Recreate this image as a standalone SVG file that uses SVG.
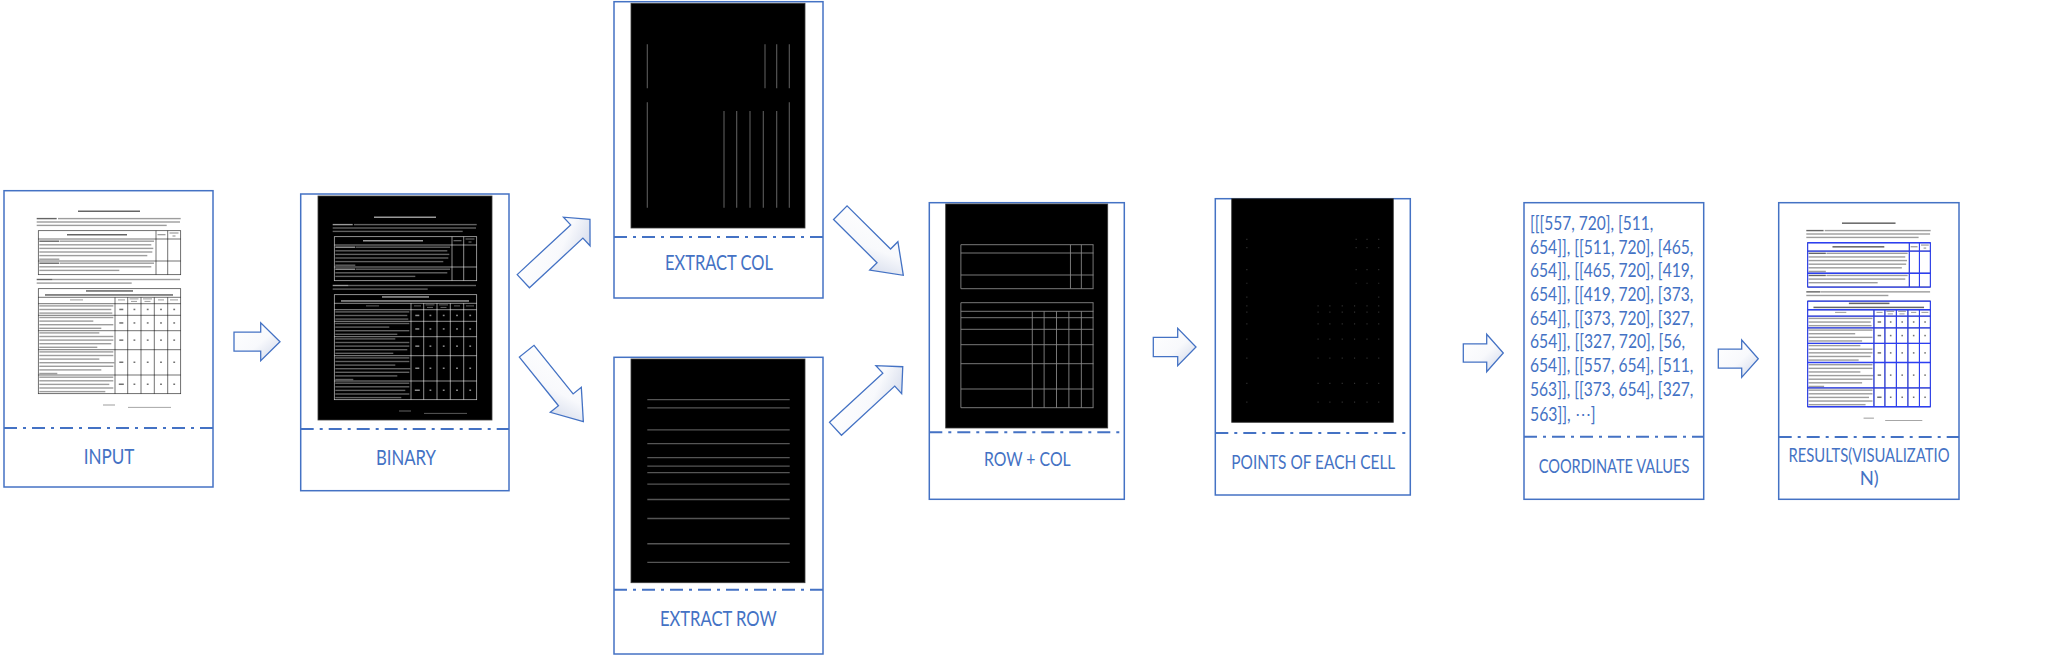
<svg xmlns="http://www.w3.org/2000/svg" xmlns:xlink="http://www.w3.org/1999/xlink" width="2047" height="656" viewBox="0 0 2047 656">
<style>
.box{fill:#fff;stroke:#4472C4;stroke-width:1.5}
.sep{fill:none;stroke:#4472C4;stroke-width:2;stroke-dasharray:13 6 3 6}
.lbl{font-family:Lato,"Liberation Sans",sans-serif;font-weight:400;fill:#4472C4;text-anchor:middle}
.crd{font-family:Lato,"Liberation Sans",sans-serif;font-weight:400;fill:#4472C4;font-size:19.5px}
.arr{fill:url(#ag);stroke:#4472C4;stroke-width:1.3;stroke-linejoin:miter}
.img{fill:#000;stroke:#3a3a3a;stroke-width:.8}
</style>
<defs>
<linearGradient id="ag" x1="0" y1="0" x2="1" y2="1">
<stop offset="0" stop-color="#ffffff"/>
<stop offset="0.55" stop-color="#f8f9fc"/>
<stop offset="1" stop-color="#cdd5e8"/>
</linearGradient>
<symbol id="doc" viewBox="0 0 174 224" preserveAspectRatio="none">
<g fill="currentColor">
<g opacity=".6">
<rect x="56" y="20.5" width="62" height="1.5"/>
<rect x="14.7" y="27.9" width="20" height="1.4"/>
<rect x="45" y="44" width="60" height="1.5"/>
<rect x="17.3" y="50.5" width="20" height="1.4"/>
<rect x="17.3" y="72.5" width="20" height="1.4"/>
<rect x="14.7" y="88.8" width="16" height="1.4"/>
<rect x="64" y="100.2" width="47" height="1.5"/>
<rect x="23" y="104.2" width="128" height="1.5"/>
</g>
<g opacity=".38">
<rect x="36" y="27.9" width="122.7" height="1.4"/>
<rect x="14.7" y="31.3" width="143.3" height="1.4"/>
<rect x="14.7" y="34.7" width="130" height="1.4"/>
<rect x="135.5" y="44" width="8" height="1.3"/>
<rect x="147.5" y="42.4" width="9" height="1.2"/>
<rect x="150.5" y="45.4" width="3" height="1.2"/>
<rect x="38" y="50.5" width="94" height="1.4"/>
<rect x="17.3" y="54.1" width="112" height="1.4"/>
<rect x="17.3" y="57.7" width="114" height="1.4"/>
<rect x="17.3" y="61.3" width="113" height="1.4"/>
<rect x="17.3" y="64.9" width="108" height="1.4"/>
<rect x="17.3" y="68.5" width="20" height="1.4"/>
<rect x="38" y="72.5" width="94" height="1.4"/>
<rect x="17.3" y="76.1" width="112" height="1.4"/>
<rect x="17.3" y="79.7" width="80" height="1.4"/>
<rect x="31" y="88.8" width="127" height="1.4"/>
<rect x="14.7" y="92.4" width="95" height="1.4"/>
<rect x="48" y="109.4" width="13" height="1"/>
<rect x="96" y="109.4" width="7" height="1"/>
<rect x="107.5" y="108.4" width="9" height="1"/>
<rect x="109" y="110.9" width="6" height="1"/>
<rect x="121" y="108.4" width="9" height="1"/>
<rect x="122.5" y="110.9" width="6" height="1"/>
<rect x="136" y="109.4" width="6" height="1"/>
<rect x="148" y="109.4" width="8" height="1"/>
<rect x="17.3" y="115.2" width="74" height="1.4"/>
<rect x="17.3" y="118.8" width="72" height="1.4"/>
<rect x="17.3" y="122.4" width="73" height="1.4"/>
<rect x="17.3" y="126.8" width="74" height="1.4"/>
<rect x="17.3" y="130.4" width="54" height="1.4"/>
<rect x="17.3" y="134" width="74" height="1.4"/>
<rect x="17.3" y="137.6" width="62" height="1.4"/>
<rect x="17.3" y="142.2" width="60" height="1.4"/>
<rect x="17.3" y="145.8" width="74" height="1.4"/>
<rect x="17.3" y="149.4" width="74" height="1.4"/>
<rect x="17.3" y="153" width="72" height="1.4"/>
<rect x="17.3" y="156.6" width="58" height="1.4"/>
<rect x="17.3" y="161.2" width="74" height="1.4"/>
<rect x="17.3" y="164.8" width="74" height="1.4"/>
<rect x="17.3" y="168.4" width="60" height="1.4"/>
<rect x="17.3" y="172" width="75" height="1.4"/>
<rect x="17.3" y="175.6" width="74" height="1.4"/>
<rect x="17.3" y="179.2" width="62" height="1.4"/>
<rect x="17.3" y="182.8" width="18" height="1.4"/>
<rect x="17.3" y="186.5" width="74" height="1.4"/>
<rect x="17.3" y="190.1" width="74" height="1.4"/>
<rect x="17.3" y="193.7" width="70" height="1.4"/>
<rect x="17.3" y="197.3" width="74" height="1.4"/>
<rect x="17.3" y="200.9" width="66" height="1.4"/>
<rect x="81" y="214.5" width="12" height="1"/>
<rect x="106" y="216.9" width="43" height="0.9"/>
</g>
<g opacity=".55">
<rect x="97.3" y="118.7" width="4" height="1.5"/><rect x="111.5" y="118.7" width="1.8" height="1.5"/><rect x="124.8" y="118.7" width="1.8" height="1.5"/><rect x="138.1" y="118.7" width="1.8" height="1.5"/><rect x="151.3" y="118.7" width="1.8" height="1.5"/>
<rect x="97.3" y="132.2" width="4" height="1.5"/><rect x="111.5" y="132.2" width="1.8" height="1.5"/><rect x="124.8" y="132.2" width="1.8" height="1.5"/><rect x="138.1" y="132.2" width="1.8" height="1.5"/><rect x="151.3" y="132.2" width="1.8" height="1.5"/>
<rect x="97.3" y="149.4" width="4" height="1.5"/><rect x="111.5" y="149.4" width="1.8" height="1.5"/><rect x="124.8" y="149.4" width="1.8" height="1.5"/><rect x="138.1" y="149.4" width="1.8" height="1.5"/><rect x="151.3" y="149.4" width="1.8" height="1.5"/>
<rect x="97.3" y="171.5" width="4" height="1.5"/><rect x="111.5" y="171.5" width="1.8" height="1.5"/><rect x="124.8" y="171.5" width="1.8" height="1.5"/><rect x="138.1" y="171.5" width="1.8" height="1.5"/><rect x="151.3" y="171.5" width="1.8" height="1.5"/>
<rect x="96.8" y="193.5" width="5" height="1.5"/><rect x="111.5" y="193.5" width="1.8" height="1.5"/><rect x="124.8" y="193.5" width="1.8" height="1.5"/><rect x="138.1" y="193.5" width="1.8" height="1.5"/><rect x="151.3" y="193.5" width="1.8" height="1.5"/>
</g>
</g>
<g fill="none" stroke="currentColor" stroke-width=".7" stroke-opacity=".8">
<rect x="16.3" y="40.7" width="142.4" height="44"/>
<path d="M16.3,49H158.7M16.3,71H158.7M134,40.7V84.7M145.7,40.7V84.7"/>
<rect x="16.3" y="98.7" width="142.4" height="105"/>
<path d="M16.3,107.3H158.7M16.3,113.7H158.7M16.3,125.3H158.7M16.3,140.7H158.7M16.3,159.7H158.7M16.3,185H158.7M93,107.3V203.7M105.7,107.3V203.7M119,107.3V203.7M132.3,107.3V203.7M145.7,107.3V203.7"/>
</g>
</symbol>
<symbol id="hl" viewBox="0 0 174 224" preserveAspectRatio="none">
<path fill="none" stroke="currentColor" d="M16.3,40.7H158.7M16.3,49H158.7M16.3,71H158.7M16.3,84.7H158.7M16.3,98.7H158.7M16.3,107.3H158.7M16.3,113.7H158.7M16.3,125.3H158.7M16.3,140.7H158.7M16.3,159.7H158.7M16.3,185H158.7M16.3,203.7H158.7"/>
</symbol>
<symbol id="vl" viewBox="0 0 174 224" preserveAspectRatio="none">
<path fill="none" stroke="currentColor" d="M16.3,40.7V84.7M134,40.7V84.7M145.7,40.7V84.7M158.3,40.7V84.7M16.3,98.7V203.7M158.3,98.7V203.7M93,107.3V203.7M105.7,107.3V203.7M119,107.3V203.7M132.3,107.3V203.7M145.7,107.3V203.7"/>
</symbol>
<symbol id="pts" viewBox="0 0 174 224" preserveAspectRatio="none">
<path fill="none" stroke="currentColor" stroke-width="1.2" stroke-linecap="square" d="M16.3,40.7h.01M16.3,49h.01M16.3,71h.01M16.3,84.7h.01M16.3,98.7h.01M16.3,107.3h.01M16.3,113.7h.01M16.3,125.3h.01M16.3,140.7h.01M16.3,159.7h.01M16.3,185h.01M16.3,203.7h.01
M134,40.7h.01M145.7,40.7h.01M158.3,40.7h.01M134,49h.01M145.7,49h.01M158.3,49h.01M134,71h.01M145.7,71h.01M158.3,71h.01M134,84.7h.01M145.7,84.7h.01M158.3,84.7h.01M158.3,98.7h.01
M93,107.3h.01M105.7,107.3h.01M119,107.3h.01M132.3,107.3h.01M145.7,107.3h.01M158.3,107.3h.01
M93,113.7h.01M105.7,113.7h.01M119,113.7h.01M132.3,113.7h.01M145.7,113.7h.01M158.3,113.7h.01
M93,125.3h.01M105.7,125.3h.01M119,125.3h.01M132.3,125.3h.01M145.7,125.3h.01M158.3,125.3h.01
M93,140.7h.01M105.7,140.7h.01M119,140.7h.01M132.3,140.7h.01M145.7,140.7h.01M158.3,140.7h.01
M93,159.7h.01M105.7,159.7h.01M119,159.7h.01M132.3,159.7h.01M145.7,159.7h.01M158.3,159.7h.01
M93,185h.01M105.7,185h.01M119,185h.01M132.3,185h.01M145.7,185h.01M158.3,185h.01
M93,203.7h.01M105.7,203.7h.01M119,203.7h.01M132.3,203.7h.01M145.7,203.7h.01M158.3,203.7h.01"/>
</symbol>
</defs>

<g id="input">
<rect class="box" x="4" y="190.7" width="209" height="296.3"/>
<use href="#doc" x="22" y="190" width="174" height="224" style="color:#000"/>
<line class="sep" x1="4" y1="428" x2="213" y2="428"/>
<text class="lbl" x="109" y="464" font-size="20.5" textLength="50.7" lengthAdjust="spacingAndGlyphs">INPUT</text>
</g>

<g id="binary">
<rect class="box" x="300.7" y="194" width="208.3" height="296.7"/>
<rect class="img" x="318" y="196" width="174" height="224"/>
<use href="#doc" x="318" y="196" width="174" height="224" style="color:#fff"/>
<line class="sep" x1="300.7" y1="429" x2="509" y2="429"/>
<text class="lbl" x="406" y="465" font-size="20.5" textLength="60" lengthAdjust="spacingAndGlyphs">BINARY</text>
</g>

<g id="extract-col">
<rect class="box" x="614" y="1.7" width="209" height="296.3"/>
<rect class="img" x="631" y="3.3" width="174" height="224.7"/>
<use href="#vl" x="631" y="3.3" width="174" height="224.7" style="color:#5c5c5c;stroke-width:1.1"/>
<line class="sep" x1="614" y1="237" x2="823" y2="237"/>
<text class="lbl" x="719" y="270" font-size="20.5" textLength="108" lengthAdjust="spacingAndGlyphs">EXTRACT COL</text>
</g>

<g id="extract-row">
<rect class="box" x="614" y="357.3" width="209" height="296.7"/>
<rect class="img" x="631" y="359" width="174" height="223.7"/>
<use href="#hl" x="631" y="359" width="174" height="223.7" style="color:#555;stroke-width:1.3"/>
<line class="sep" x1="614" y1="589.7" x2="823" y2="589.7"/>
<text class="lbl" x="718.3" y="626" font-size="20.5" textLength="116.7" lengthAdjust="spacingAndGlyphs">EXTRACT ROW</text>
</g>

<g id="row-col">
<rect class="box" x="929.3" y="202.7" width="195" height="296.6"/>
<rect class="img" x="945.7" y="204" width="162" height="224"/>
<use href="#hl" x="945.7" y="204" width="162" height="224" style="color:#8a8a8a;stroke-width:.9"/>
<use href="#vl" x="945.7" y="204" width="162" height="224" style="color:#8a8a8a;stroke-width:.9"/>
<line class="sep" x1="929.3" y1="432.3" x2="1124.3" y2="432.3"/>
<text class="lbl" x="1027.3" y="466" font-size="19.5" textLength="86.7" lengthAdjust="spacingAndGlyphs">ROW + COL</text>
</g>

<g id="points">
<rect class="box" x="1215.3" y="198.7" width="195" height="296.3"/>
<rect class="img" x="1231.7" y="198.7" width="161.6" height="223.6"/>
<use href="#pts" x="1231.7" y="198.7" width="161.6" height="223.6" style="color:#333"/>
<line class="sep" x1="1215.3" y1="433" x2="1410.3" y2="433"/>
<text class="lbl" x="1313.3" y="468.7" font-size="19.5" textLength="164" lengthAdjust="spacingAndGlyphs">POINTS OF EACH CELL</text>
</g>

<g id="coords">
<rect class="box" x="1524" y="202.7" width="179.7" height="296.6"/>
<text class="crd" x="1530" y="230" textLength="123.3" lengthAdjust="spacingAndGlyphs">[[[557, 720], [511,</text>
<text class="crd" x="1530" y="253.6" textLength="163.3" lengthAdjust="spacingAndGlyphs">654]], [[511, 720], [465,</text>
<text class="crd" x="1530" y="277.3" textLength="163.3" lengthAdjust="spacingAndGlyphs">654]], [[465, 720], [419,</text>
<text class="crd" x="1530" y="300.9" textLength="163.3" lengthAdjust="spacingAndGlyphs">654]], [[419, 720], [373,</text>
<text class="crd" x="1530" y="324.6" textLength="163.3" lengthAdjust="spacingAndGlyphs">654]], [[373, 720], [327,</text>
<text class="crd" x="1530" y="348.3" textLength="155" lengthAdjust="spacingAndGlyphs">654]], [[327, 720], [56,</text>
<text class="crd" x="1530" y="372.2" textLength="163.3" lengthAdjust="spacingAndGlyphs">654]], [[557, 654], [511,</text>
<text class="crd" x="1530" y="396" textLength="163.3" lengthAdjust="spacingAndGlyphs">563]], [[373, 654], [327,</text>
<text class="crd" x="1530" y="420.7" textLength="65.7" lengthAdjust="spacingAndGlyphs">563]], ⋯]</text>
<line class="sep" x1="1524" y1="436.7" x2="1703.7" y2="436.7"/>
<text class="lbl" x="1614" y="472.7" font-size="18.5" textLength="150.7" lengthAdjust="spacingAndGlyphs">COORDINATE VALUES</text>
</g>

<g id="results">
<rect class="box" x="1778.7" y="202.7" width="180.3" height="296.6"/>
<use href="#doc" x="1793.6" y="201.8" width="150.3" height="225.4" style="color:#000"/>
<use href="#hl" x="1793.6" y="201.8" width="150.3" height="225.4" style="color:#2c3ff2;stroke-width:1.3"/>
<use href="#vl" x="1793.6" y="201.8" width="150.3" height="225.4" style="color:#2c3ff2;stroke-width:1.3"/>
<line class="sep" x1="1778.7" y1="437" x2="1959" y2="437"/>
<text class="lbl" x="1869" y="461.7" font-size="18.5" textLength="161" lengthAdjust="spacingAndGlyphs">RESULTS(VISUALIZATIO</text>
<text class="lbl" x="1869.3" y="485" font-size="18.5">N)</text>
</g>

<g id="connectors">
<path class="arr" transform="translate(234,341.7)" d="M0,-9.5H26.7V-19L46,0L26.7,19V9.5H0Z"/>
<path class="arr" transform="translate(523.3,281.2) rotate(-42.9)" d="M0,-9H73V-19.5L91,0L73,19.5V9H0Z"/>
<path class="arr" transform="translate(526.7,351.2) rotate(51.2)" d="M0,-9.4H62.4V-19.9L90.4,0L62.4,19.9V9.4H0Z"/>
<path class="arr" transform="translate(840.3,212.7) rotate(44.8)" d="M0,-9.6H61.3V-20L88.8,0L61.3,20V9.6H0Z"/>
<path class="arr" transform="translate(835.5,428.8) rotate(-42.7)" d="M0,-8.8H72.5V-19L91.5,0L72.5,19V8.8H0Z"/>
<path class="arr" transform="translate(1153.3,347)" d="M0,-9.7H24.4V-18.7L42.7,0L24.4,18.7V9.7H0Z"/>
<path class="arr" transform="translate(1463.3,353)" d="M0,-9.2H23.4V-18.7L40,0L23.4,18.7V9.2H0Z"/>
<path class="arr" transform="translate(1718.3,358.7)" d="M0,-9.5H23.4V-18.7L40,0L23.4,18.7V9.5H0Z"/>
</g>
</svg>
